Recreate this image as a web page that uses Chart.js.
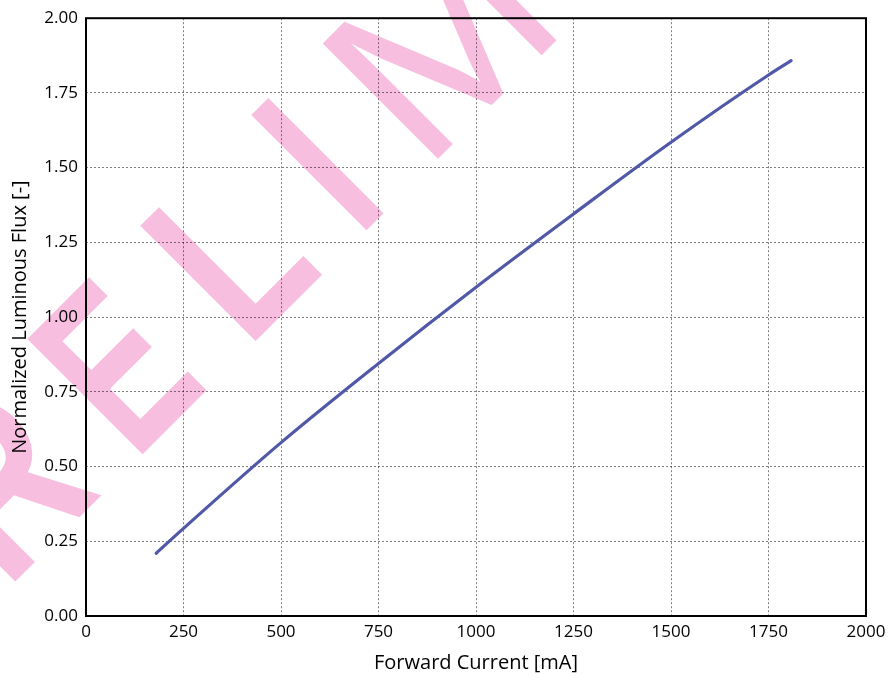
<!DOCTYPE html>
<html>
<head>
<meta charset="utf-8">
<script src="https://cdn.jsdelivr.net/npm/chart.js@4.4.1/dist/chart.umd.min.js"></script>
<style>
html,body{margin:0;padding:0;background:#fff;}
#wrap{width:894px;height:677px;position:relative;}
</style>
</head>
<body>
<div id="wrap"><canvas id="c"></canvas></div>
<script>
// ---- data ----
const currents = [180, 250, 500, 750, 1000, 1250, 1500, 1750, 1808];            // Forward current [mA]
const flux     = [0.21, 0.293, 0.58, 0.845, 1.10, 1.345, 1.585, 1.81, 1.858];   // Normalized luminous flux
const xTicks   = [0, 250, 500, 750, 1000, 1250, 1500, 1750, 2000];
const yTicks   = [0, 0.25, 0.5, 0.75, 1.0, 1.25, 1.5, 1.75, 2.0];
const xTitle   = 'Forward Current [mA]';
const yTitle   = 'Normalized Luminous Flux [-]';
const watermark = 'PRELIMINARY';

const FONT = '"Open Sans", "Noto Sans", sans-serif';

// frame around the plot area
const framePlugin = {
  id: 'frame',
  afterDatasetsDraw(chart) {
    const {ctx, chartArea: a} = chart;
    ctx.save();
    ctx.strokeStyle = '#000';
    ctx.lineWidth = 2;
    ctx.strokeRect(a.left, a.top, a.right - a.left, a.bottom - a.top);
    ctx.restore();
  }
};

// diagonal pink watermark text, multiplied over the chart
const watermarkPlugin = {
  id: 'watermark',
  afterDraw(chart) {
    const {ctx} = chart;
    const W = chart.canvas.width, H = chart.canvas.height;
    const off = document.createElement('canvas');
    off.width = W; off.height = H;
    const o = off.getContext('2d');
    o.fillStyle = 'rgb(247,190,224)';
    o.rotate(-Math.PI / 4);
    const baseV = 422, capH = 163.5;
    // rotated-frame layout of the visible glyphs (left edge, width)
    const layout = {1: [-401, 123], 2: [-221, 91], 3: [-61, 95], 4: [96, 24.5], 5: [197, 168]};
    o.font = 'bold 100px "Liberation Sans"';
    const asc = o.measureText('E').actualBoundingBoxAscent;
    const size = 100 * capH / asc;
    const chars = watermark.split('');
    let u = -401 - 57 - 110;
    chars.forEach((ch, i) => {
      const weight = ch === 'M' ? 'normal' : 'bold';
      o.font = weight + ' ' + size + 'px "Liberation Sans"';
      const m = o.measureText(ch);
      const gw = m.actualBoundingBoxLeft + m.actualBoundingBoxRight;
      let left, w;
      if (layout[i]) { left = layout[i][0]; w = layout[i][1]; }
      else { left = u; w = gw * 0.8; }
      const sx = w / gw;
      o.save();
      o.translate(left, baseV);
      o.scale(sx, 1);
      o.fillText(ch, m.actualBoundingBoxLeft, 0);
      o.restore();
      u = left + w + 62;
    });
    ctx.save();
    ctx.globalCompositeOperation = 'multiply';
    ctx.drawImage(off, 0, 0);
    ctx.restore();
  }
};

const gridOpts = {color: 'rgba(0,0,0,0.5)', lineWidth: 1, drawTicks: false};

new Chart(document.getElementById('c'), {
  type: 'line',
  data: {
    datasets: [{
      data: currents.map((c, i) => ({x: c, y: flux[i]})),
      borderColor: '#5059a8',
      borderWidth: 3.2,
      borderCapStyle: 'round',
      pointRadius: 0,
      cubicInterpolationMode: 'monotone',
      fill: false
    }]
  },
  options: {
    responsive: true,
    maintainAspectRatio: false,
    animation: false,
    layout: {padding: {left: 0, right: 28, top: 17, bottom: 0}},
    plugins: {legend: {display: false}, tooltip: {enabled: false}},
    scales: {
      x: {
        type: 'linear', min: 0, max: 2000,
        afterBuildTicks: s => { s.ticks = xTicks.map(v => ({value: v})); },
        afterFit: s => { s.height = 61; },
        grid: gridOpts,
        border: {display: false, dash: [2, 2]},
        ticks: {color: '#000', font: {family: FONT, size: 17}, padding: 6, maxRotation: 0,
                callback: v => String(v)},
        title: {display: true, text: xTitle, color: '#000', font: {family: FONT, size: 20}, padding: {top: 0, bottom: 2}}
      },
      y: {
        type: 'linear', min: 0, max: 2,
        afterBuildTicks: s => { s.ticks = yTicks.map(v => ({value: v})); },
        afterFit: s => { s.width = 86; },
        grid: gridOpts,
        border: {display: false, dash: [2, 2]},
        ticks: {color: '#000', font: {family: FONT, size: 17}, padding: 8,
                callback: v => Number(v).toFixed(2)},
        title: {display: true, text: yTitle, color: '#000', font: {family: FONT, size: 20}, padding: {top: 8, bottom: 0}}
      }
    }
  },
  plugins: [framePlugin, watermarkPlugin]
});
</script>
</body>
</html>
